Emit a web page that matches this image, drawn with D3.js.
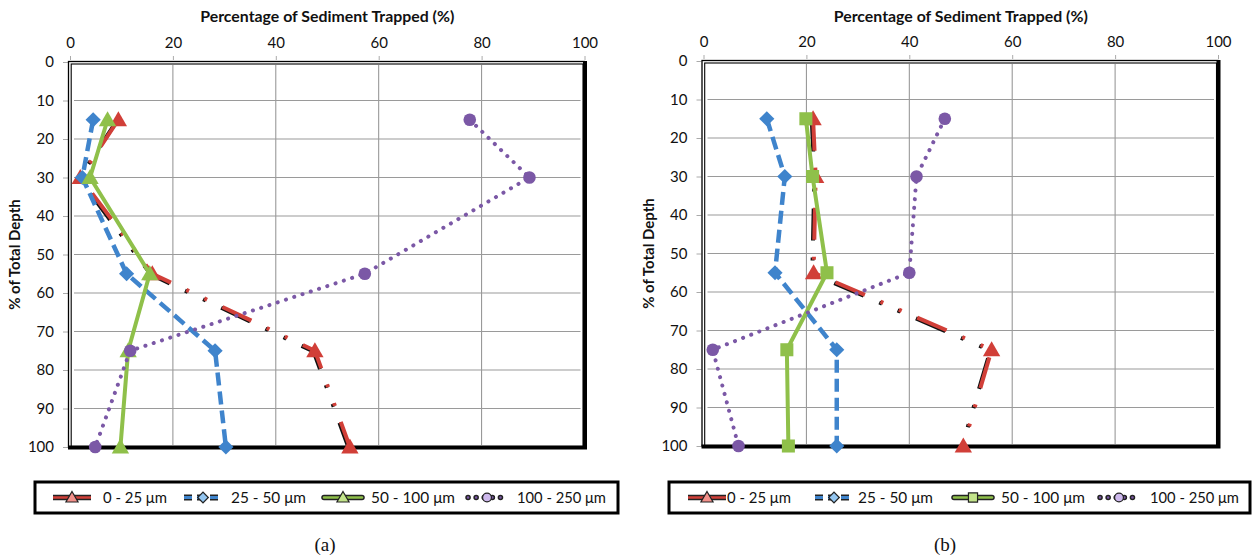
<!DOCTYPE html>
<html>
<head>
<meta charset="utf-8">
<script src="https://cdn.jsdelivr.net/npm/d3@7"></script>
<style>
  html, body { margin: 0; padding: 0; background: #fff; }
  svg { display: block; }
</style>
</head>
<body>
<svg id="chart" width="1254" height="559"></svg>
<script>
// ---------------- DATA ----------------
const depths = [15, 30, 55, 75, 100];
const seriesNames = ["0 - 25 \u03bcm", "25 - 50 \u03bcm", "50 - 100 \u03bcm", "100 - 250 \u03bcm"];
// panel (a)
const a_0_25   = [9.4, 2.0, 16.0, 47.6, 54.4];
const a_25_50  = [4.5, 2.4, 11.0, 28.2, 30.3];
const a_50_100 = [7.3, 3.9, 15.5, 11.3, 9.8];
const a_100_250 = [77.7, 89.3, 57.3, 11.7, 4.9];
// panel (b)
const b_0_25   = [21.3, 21.8, 21.4, 56.0, 50.5];
const b_25_50  = [12.3, 15.8, 13.9, 25.9, 25.9];
const b_50_100 = [19.9, 21.2, 24.0, 16.2, 16.5];
const b_100_250 = [46.9, 41.4, 40.0, 1.8, 6.8];
const xTicks = [0, 20, 40, 60, 80, 100];
const yTicks = [0, 10, 20, 30, 40, 50, 60, 70, 80, 90, 100];
const xTitle = "Percentage of Sediment Trapped (%)";
const yTitle = "% of Total Depth";
const captions = ["(a)", "(b)"];

// ---------------- STYLES ----------------
const styles = [
  { color: "#d13f38", light: "#f2908a", width: 4,   dash: "32 17 3 17 3 17", cap: "butt",  shadow: true },
  { color: "#3f84cc", light: "#94c6f0", width: 4.5, dash: "13 6",            cap: "butt",  shadow: false },
  { color: "#8fc04a", light: "#c2e38a", width: 4,   dash: null,              cap: "round", shadow: false },
  { color: "#7b58a6", light: "#cdb8ec", width: 4,   dash: "0.1 8.6",         cap: "round", shadow: false }
];
const legendTextWidths = [64, 75, 84, 89];
const FONT = "Lato, 'Open Sans', sans-serif";

const panels = [
  { series: [a_0_25, a_25_50, a_50_100, a_100_250], markers: ["tri", "dia", "tri", "circ"],
    x0: 70, x1: 584.5, y0: 62, y1: 447, legend: [35, 482, 618, 513], caption: 325,
    legendPos: [{ s: 53, t: 103 }, { s: 184, t: 231 }, { s: 324, t: 371 }, { s: 468, t: 517 }] },
  { series: [b_0_25, b_25_50, b_50_100, b_100_250], markers: ["tri", "dia", "sq", "circ"],
    x0: 703.5, x1: 1218, y0: 61, y1: 446, legend: [669, 482, 1250, 513], caption: 945,
    legendPos: [{ s: 688, t: 727 }, { s: 815, t: 858 }, { s: 954, t: 1001 }, { s: 1100, t: 1150 }] }
];

const svg = d3.select("#chart");

function symbolFor(kind, scale) {
  scale = scale || 1;
  if (kind === "tri") return d3.symbol(d3.symbolTriangle, 130 * scale * scale)();
  if (kind === "dia") return d3.symbol(d3.symbolSquare, 115 * scale * scale)();
  if (kind === "sq") return d3.symbol(d3.symbolSquare, 170 * scale * scale)();
  return d3.symbol(d3.symbolCircle, 125 * scale * scale)();
}

panels.forEach((p, pi) => {
  const g = svg.append("g");
  const x = d3.scaleLinear().domain([0, 100]).range([p.x0, p.x1]);
  const y = d3.scaleLinear().domain([0, 100]).range([p.y0, p.y1]);

  // gridlines
  g.append("g").selectAll("line.v").data(xTicks.filter(d => d > 0 && d < 100)).join("line")
    .attr("x1", d => x(d)).attr("x2", d => x(d)).attr("y1", p.y0 + 3).attr("y2", p.y1 - 2)
    .attr("stroke", "#8f8f8f").attr("stroke-width", 1);
  g.append("g").selectAll("line.h").data(yTicks.filter(d => d > 0 && d < 100)).join("line")
    .attr("x1", p.x0 + 4).attr("x2", p.x1 - 4).attr("y1", d => y(d)).attr("y2", d => y(d))
    .attr("stroke", "#9a9a9a").attr("stroke-width", 1.2);

  // axes (top x-axis, left y-axis)
  const xAxis = d3.axisTop(x).tickValues(xTicks).tickSize(4).tickPadding(8).tickFormat(d3.format("d"));
  const yAxis = d3.axisLeft(y).tickValues(yTicks).tickSize(5).tickPadding(9).tickFormat(d3.format("d"));
  const gx = g.append("g").attr("transform", `translate(0,${p.y0 - 2})`).call(xAxis);
  const gy = g.append("g").attr("transform", `translate(${p.x0 - 2},0)`).call(yAxis);
  [gx, gy].forEach(ax => {
    ax.select(".domain").remove();
    ax.selectAll(".tick line").attr("stroke", "#aaa").attr("stroke-width", 1);
    ax.selectAll(".tick text").attr("font-family", FONT).attr("font-size", 15).attr("fill", "#111");
  });

  // plot frame: double line left/top, heavy right/bottom
  g.append("rect").attr("x", p.x0 - 1.5).attr("y", p.y0 - 0.5).attr("width", p.x1 - p.x0 + 1.5).attr("height", p.y1 - p.y0 + 0.5)
    .attr("fill", "none").attr("stroke", "#000").attr("stroke-width", 1.3);
  g.append("rect").attr("x", p.x0 + 1.2).attr("y", p.y0 + 2).attr("width", p.x1 - p.x0 - 2.7).attr("height", p.y1 - p.y0 - 2.5)
    .attr("fill", "none").attr("stroke", "#000").attr("stroke-width", 1.1);
  g.append("path")
    .attr("d", `M${p.x1 + 0.5},${p.y0 - 1} L${p.x1 + 0.5},${p.y1 + 0.5} L${p.x0 - 2},${p.y1 + 0.5}`)
    .attr("fill", "none").attr("stroke", "#000").attr("stroke-width", 4);

  // titles
  g.append("text").attr("x", (p.x0 + p.x1) / 2).attr("y", 22).attr("text-anchor", "middle")
    .attr("font-family", FONT).attr("font-weight", "bold").attr("font-size", 15.5).attr("fill", "#111")
    .attr("textLength", 254).attr("lengthAdjust", "spacingAndGlyphs").text(xTitle);
  g.append("text").attr("transform", `translate(${p.x0 - 50},${(p.y0 + p.y1) / 2}) rotate(-90)`)
    .attr("text-anchor", "middle").attr("font-family", FONT).attr("font-weight", "bold").attr("font-size", 15)
    .attr("fill", "#111").text(yTitle);

  // series
  const line = d3.line().x(d => x(d[0])).y(d => y(d[1]));
  p.series.forEach((vals, si) => {
    const st = styles[si];
    const pts = vals.map((v, i) => [v, depths[i]]);
    if (st.shadow) {
      g.append("path").datum(pts).attr("d", line).attr("transform", "translate(-1.3,0.8)")
        .attr("fill", "none").attr("stroke", "#111").attr("stroke-width", st.width)
        .attr("stroke-dasharray", st.dash).attr("stroke-linecap", st.cap).attr("stroke-linejoin", "round");
    }
    g.append("path").datum(pts).attr("d", line)
      .attr("fill", "none").attr("stroke", st.color).attr("stroke-width", st.width)
      .attr("stroke-dasharray", st.dash).attr("stroke-linecap", st.cap).attr("stroke-linejoin", "round");
    const kind = p.markers[si];
    g.append("g").selectAll("path").data(pts).join("path")
      .attr("d", symbolFor(kind))
      .attr("transform", d => `translate(${x(d[0])},${y(d[1]) + (kind === "tri" ? 1.5 : 0)})` + (kind === "dia" ? " rotate(45)" : ""))
      .attr("fill", st.color);
  });

  // legend
  const L = p.legend;
  g.append("rect").attr("x", L[0]).attr("y", L[1]).attr("width", L[2] - L[0]).attr("height", L[3] - L[1])
    .attr("fill", "#fff").attr("stroke", "#000").attr("stroke-width", 3);
  const ly = (L[1] + L[3]) / 2;
  seriesNames.forEach((name, si) => {
    const st = styles[si];
    const lp = p.legendPos[si];
    const len = 38;
    let legDash = null;
    if (si === 1) legDash = "8 5";
    if (si === 3) legDash = "0.1 8";
    g.append("line").attr("x1", lp.s).attr("x2", lp.s + len).attr("y1", ly).attr("y2", ly)
      .attr("stroke", "#222").attr("stroke-width", st.width + 1.5)
      .attr("stroke-dasharray", legDash).attr("stroke-linecap", st.cap === "round" ? "round" : "butt");
    g.append("line").attr("x1", lp.s).attr("x2", lp.s + len).attr("y1", ly).attr("y2", ly)
      .attr("stroke", st.color).attr("stroke-width", st.width - 1.5)
      .attr("stroke-dasharray", legDash).attr("stroke-linecap", st.cap === "round" ? "round" : "butt");
    const kind = p.markers[si];
    g.append("path").attr("d", symbolFor(kind, 0.7))
      .attr("transform", `translate(${lp.s + len / 2},${ly + (kind === "tri" ? 1 : 0)})` + (kind === "dia" ? " rotate(45)" : ""))
      .attr("fill", st.light).attr("stroke", "#222").attr("stroke-width", 1.2);
    g.append("text").attr("x", lp.t).attr("y", ly + 5.5).attr("font-family", FONT).attr("font-size", 16)
      .attr("fill", "#111").attr("textLength", legendTextWidths[si]).attr("lengthAdjust", "spacingAndGlyphs").text(name);
  });

  // caption
  g.append("text").attr("x", p.caption).attr("y", 551).attr("text-anchor", "middle")
    .attr("font-family", "'Liberation Serif', 'Times New Roman', serif").attr("font-size", 19)
    .attr("fill", "#111").text(captions[pi]);
});
</script>
</body>
</html>
